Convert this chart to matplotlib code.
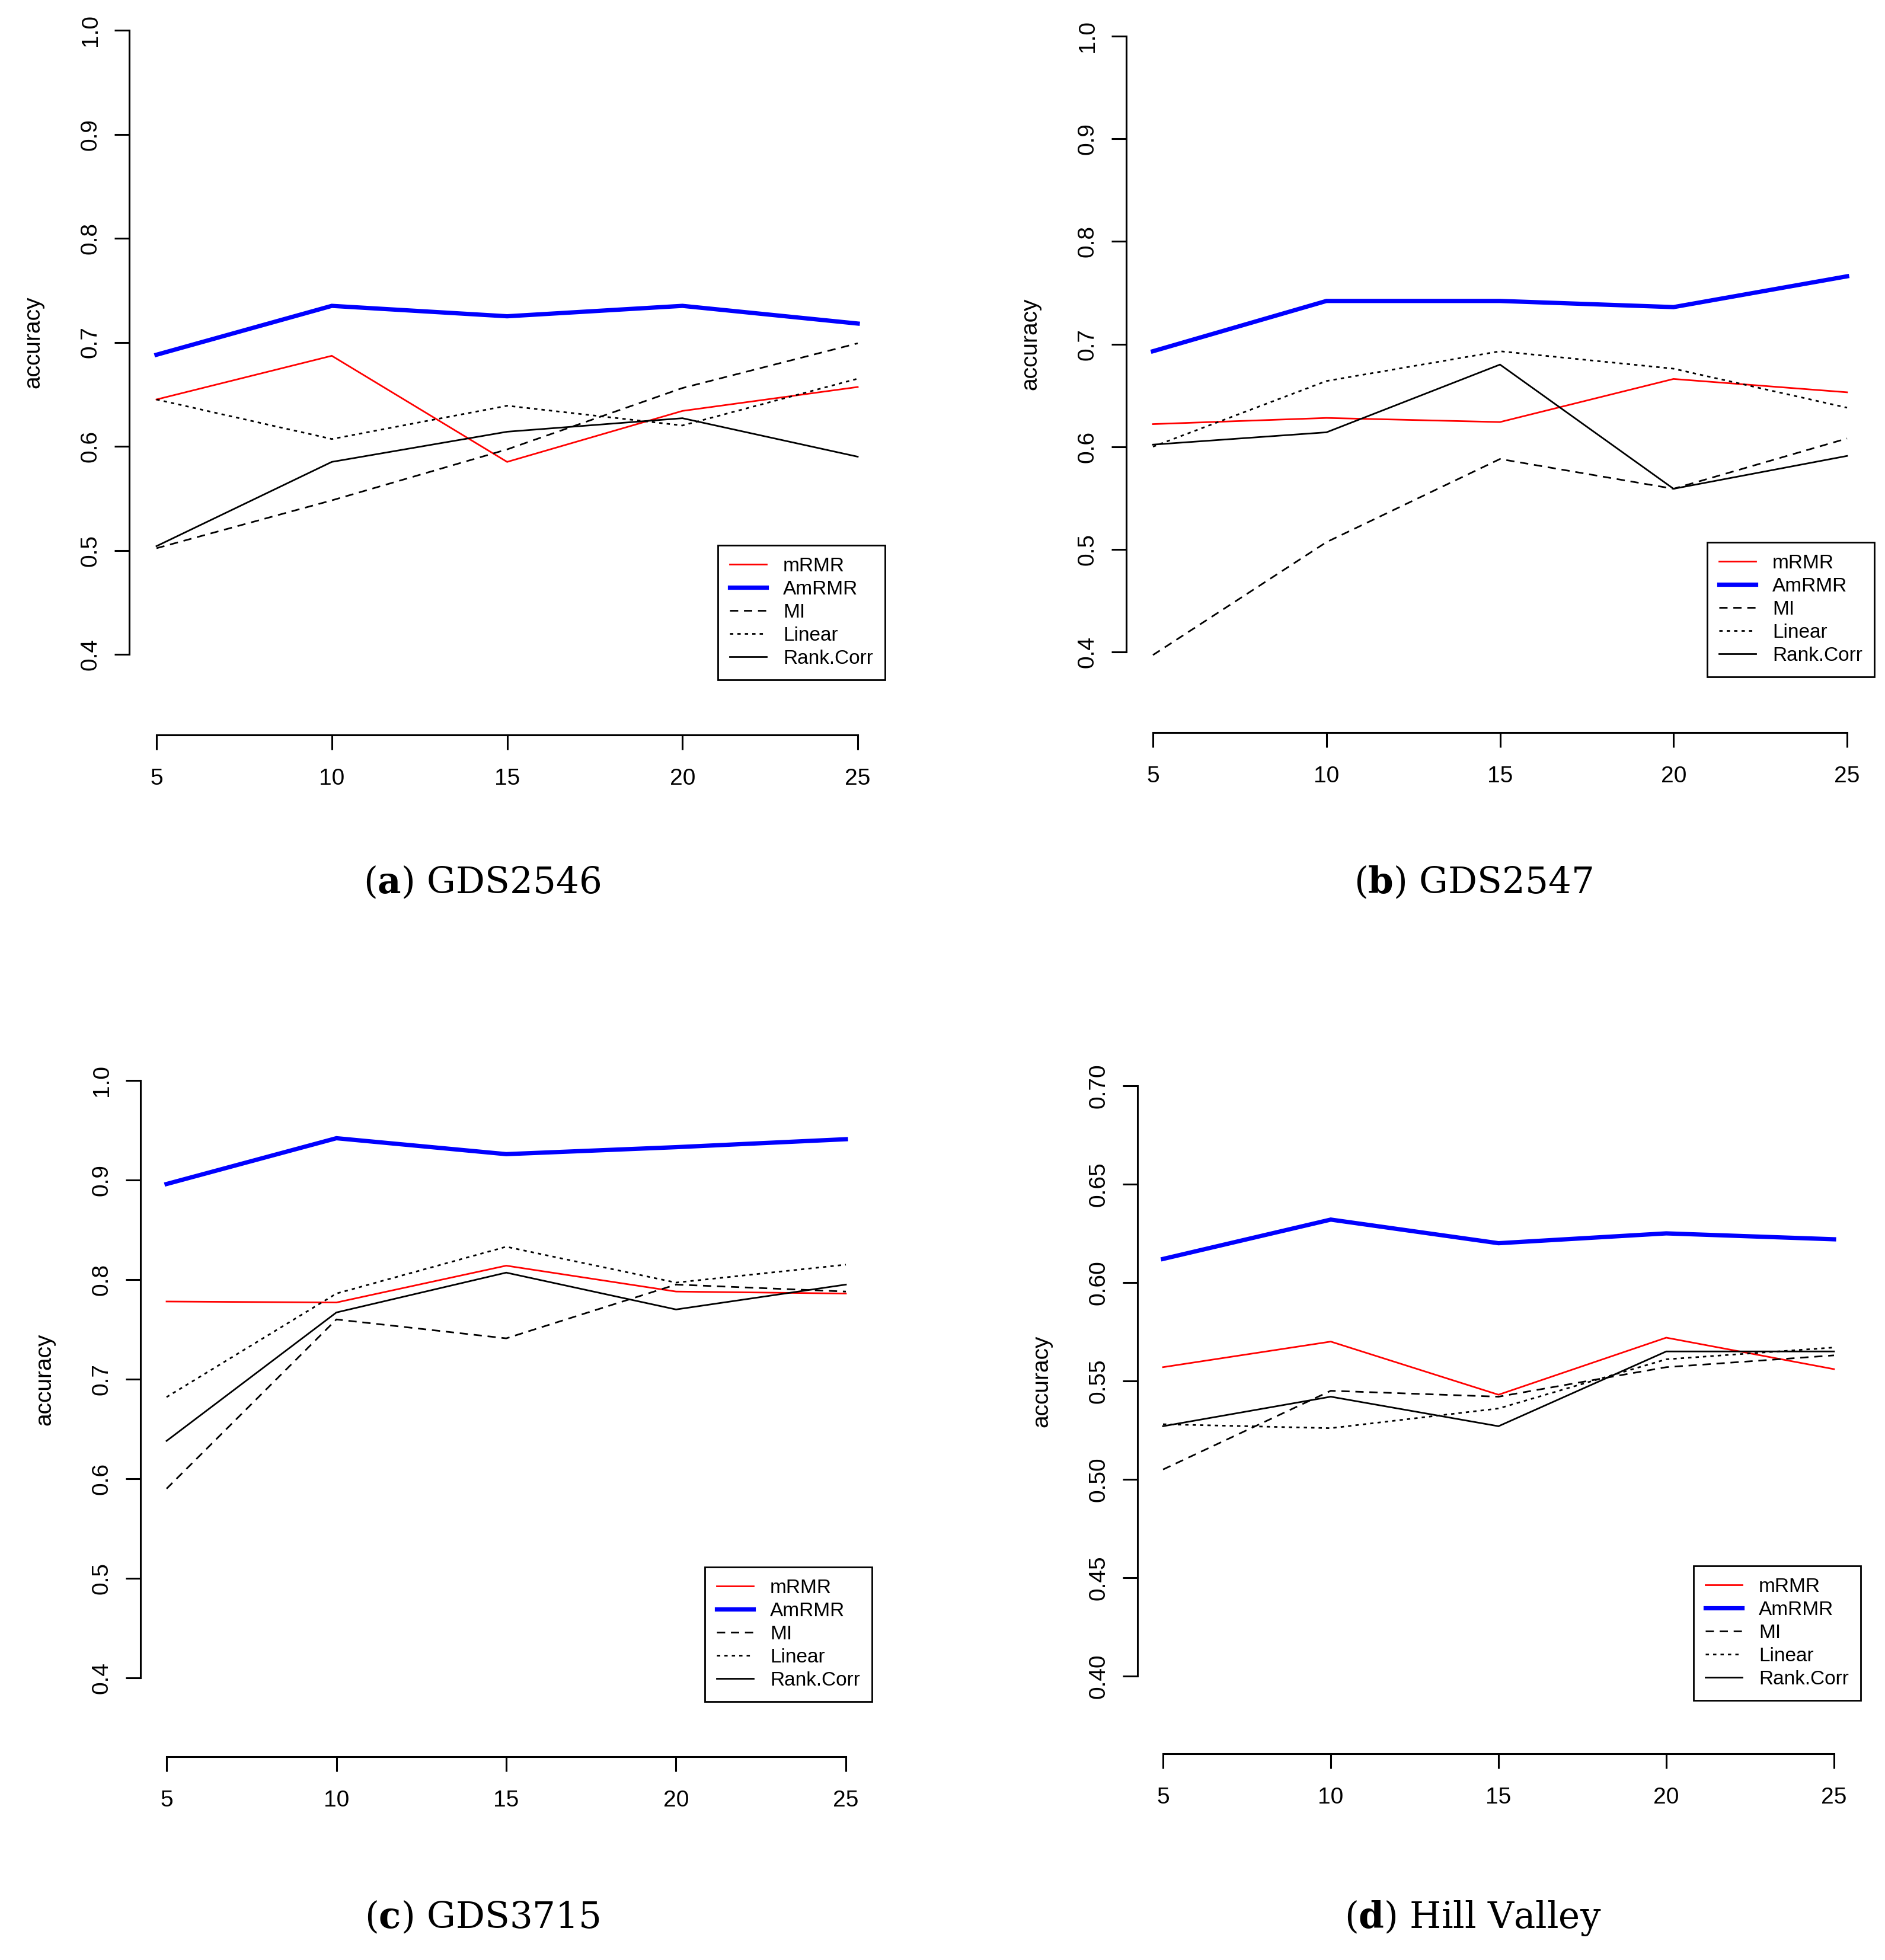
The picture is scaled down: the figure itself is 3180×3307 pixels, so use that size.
import matplotlib
matplotlib.use("Agg")
import matplotlib.pyplot as plt

plt.rcParams['font.family'] = ['Liberation Sans', 'DejaVu Sans']
plt.rcParams['mathtext.fontset'] = 'dejavuserif'

# number of selected features (x axis)
n_features = [5, 10, 15, 20, 25]
methods = ["mRMR", "AmRMR", "MI", "Linear", "Rank.Corr"]

# (a) GDS2546
gds2546_mrmr = [0.645, 0.687, 0.585, 0.634, 0.657]
gds2546_amrmr = [0.688, 0.735, 0.725, 0.735, 0.718]
gds2546_mi = [0.502, 0.548, 0.597, 0.656, 0.699]
gds2546_linear = [0.645, 0.607, 0.639, 0.620, 0.665]
gds2546_rank = [0.504, 0.585, 0.614, 0.627, 0.590]

# (b) GDS2547
gds2547_mrmr = [0.622, 0.628, 0.624, 0.666, 0.653]
gds2547_amrmr = [0.693, 0.742, 0.742, 0.736, 0.766]
gds2547_mi = [0.397, 0.507, 0.588, 0.559, 0.608]
gds2547_linear = [0.600, 0.664, 0.693, 0.676, 0.638]
gds2547_rank = [0.602, 0.614, 0.680, 0.559, 0.591]

# (c) GDS3715
gds3715_mrmr = [0.778, 0.777, 0.814, 0.788, 0.786]
gds3715_amrmr = [0.896, 0.942, 0.926, 0.933, 0.941]
gds3715_mi = [0.590, 0.760, 0.741, 0.795, 0.788]
gds3715_linear = [0.682, 0.786, 0.833, 0.797, 0.815]
gds3715_rank = [0.638, 0.767, 0.807, 0.770, 0.795]

# (d) Hill Valley
hill_mrmr = [0.557, 0.570, 0.543, 0.572, 0.556]
hill_amrmr = [0.612, 0.632, 0.620, 0.625, 0.622]
hill_mi = [0.505, 0.545, 0.542, 0.557, 0.563]
hill_linear = [0.528, 0.526, 0.536, 0.561, 0.567]
hill_rank = [0.527, 0.542, 0.527, 0.565, 0.565]

yticks_gds = [0.4, 0.5, 0.6, 0.7, 0.8, 0.9, 1.0]
yticks_hill = [0.40, 0.45, 0.50, 0.55, 0.60, 0.65, 0.70]

# line style per method (R-like lty / lwd)
styles = {
    "mRMR": dict(color="red", lw=1.0, ls="-"),
    "AmRMR": dict(color="blue", lw=2.6, ls="-"),
    "MI": dict(color="black", lw=1.0, ls=(0, (5, 3.5))),
    "Linear": dict(color="black", lw=1.0, ls=(0, (2, 2.5))),
    "Rank.Corr": dict(color="black", lw=1.0, ls="-"),
}

W, H, DPI = 3180, 3307, 200


def pt(px):
    return px * 72.0 / DPI


def draw_panel(fig, series, yticks, yfmt, box, legend_corner, caption, caption_xy):
    # box = pixel positions: x of 5, x of 25, y of top tick, y of bottom tick, y-axis x, x-axis y
    x5, x25, ytop, ybot, yaxis_x, xaxis_y = box
    ax = fig.add_axes([x5 / W, 1 - ybot / H, (x25 - x5) / W, (ybot - ytop) / H])
    ax.patch.set_alpha(0)

    for name, vals in zip(methods, series):
        st = styles[name]
        ax.plot(n_features, vals, color=st["color"], lw=st["lw"], linestyle=st["ls"],
                label=name, clip_on=False, solid_joinstyle="miter")

    ax.set_xlim(5, 25)
    ax.set_ylim(yticks[0], yticks[-1])
    ax.set_xticks(n_features)
    ax.set_yticks(yticks)
    ax.set_yticklabels([yfmt.format(v) for v in yticks])

    for side in ["top", "right"]:
        ax.spines[side].set_visible(False)
    ax.spines["left"].set_position(("outward", pt(x5 - yaxis_x)))
    ax.spines["left"].set_bounds(yticks[0], yticks[-1])
    ax.spines["bottom"].set_position(("outward", pt(xaxis_y - ybot)))
    ax.spines["bottom"].set_bounds(5, 25)
    for side in ["left", "bottom"]:
        ax.spines[side].set_linewidth(1.1)

    ax.tick_params(length=pt(25), width=1.1, labelsize=14, direction="out")
    ax.tick_params(axis="x", pad=11)
    ax.tick_params(axis="y", pad=8, labelrotation=90)
    for lbl in ax.get_yticklabels():
        lbl.set_va("center")

    ax.set_ylabel("accuracy", fontsize=14, va="center")
    ax.yaxis.set_label_coords((yaxis_x - 162 - x5) / (x25 - x5), 0.5)

    lx, ly = legend_corner
    leg = ax.legend(loc="lower right", bbox_to_anchor=(lx / W, 1 - ly / H),
                    bbox_transform=fig.transFigure, borderaxespad=0,
                    fancybox=False, edgecolor="black", framealpha=1,
                    fontsize=12, handlelength=1.85, handletextpad=0.85,
                    labelspacing=0.24, borderpad=0.6)
    leg.get_frame().set_linewidth(1.0)

    cx, cy = caption_xy
    fig.text(cx / W, 1 - cy / H, caption, ha="center", va="baseline",
             fontsize=22, family="DejaVu Serif")
    return ax


fig = plt.figure(figsize=(W / DPI, H / DPI), dpi=DPI)

draw_panel(fig, [gds2546_mrmr, gds2546_amrmr, gds2546_mi, gds2546_linear, gds2546_rank],
           yticks_gds, "{:.1f}", (264, 1447, 51, 1104, 218, 1240), (1493, 1147),
           r"($\mathbf{a}$) GDS2546", (813, 1507))
draw_panel(fig, [gds2547_mrmr, gds2547_amrmr, gds2547_mi, gds2547_linear, gds2547_rank],
           yticks_gds, "{:.1f}", (1945, 3116, 61, 1100, 1900, 1236), (3162, 1142),
           r"($\mathbf{b}$) GDS2547", (2485, 1507))
draw_panel(fig, [gds3715_mrmr, gds3715_amrmr, gds3715_mi, gds3715_linear, gds3715_rank],
           yticks_gds, "{:.1f}", (281, 1427, 1823, 2831, 237, 2964), (1471, 2871),
           r"($\mathbf{c}$) GDS3715", (813, 3253))
draw_panel(fig, [hill_mrmr, hill_amrmr, hill_mi, hill_linear, hill_rank],
           yticks_hill, "{:.2f}", (1962, 3094, 1832, 2828, 1919, 2959), (3139, 2869),
           r"($\mathbf{d}$) Hill Valley", (2485, 3253))

fig.savefig("out.png", dpi=DPI)
